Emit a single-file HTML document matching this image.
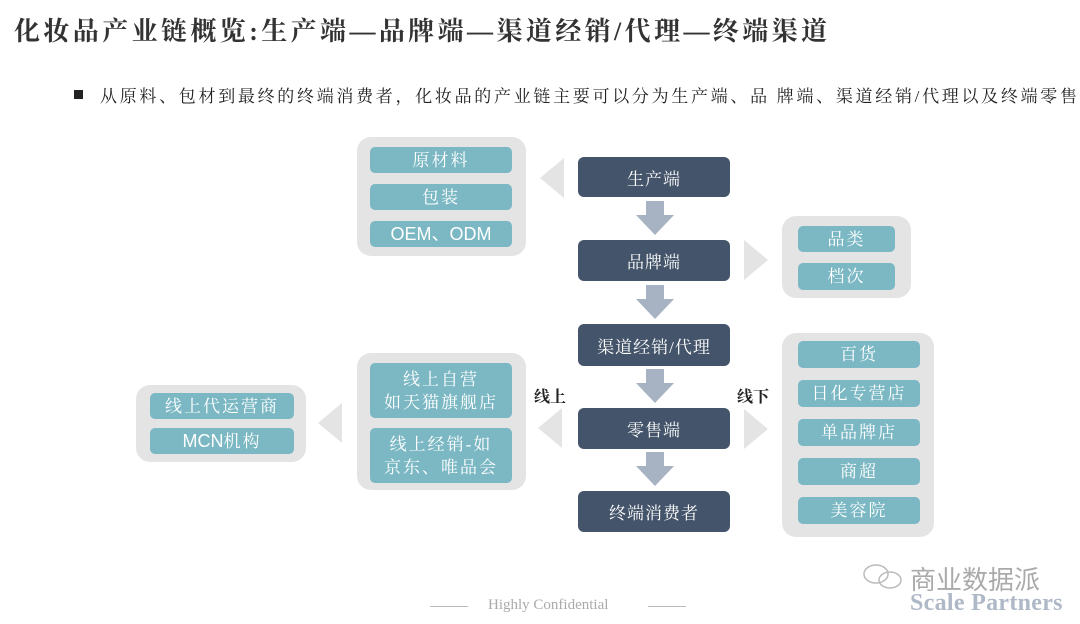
<!DOCTYPE html>
<html><head><meta charset="utf-8"><style>
body{margin:0;width:1080px;height:624px;background:#fff;position:relative;overflow:hidden;font-family:"Liberation Serif","Noto Serif CJK SC",serif}
.a{position:absolute}
.c{position:absolute;background:#e4e4e4;border-radius:14px}
.t{position:absolute;background:#7bb8c4;border-radius:5px;color:#fff;font-size:17px;display:flex;align-items:center;justify-content:center;text-align:center;line-height:23px;letter-spacing:2px}
.d{position:absolute;left:578px;width:152px;background:#44546a;border-radius:6px;color:#fff;font-size:17px;display:flex;align-items:center;justify-content:center;letter-spacing:1px}
.l{position:absolute;width:0;height:0;border-top:20px solid transparent;border-bottom:20px solid transparent}
.tl{border-right:24px solid #e4e4e4}
.tr{border-left:24px solid #e4e4e4}
.s{font-family:"Liberation Sans",sans-serif;letter-spacing:0}
</style></head><body>
<div class="a" style="left:14px;top:11px;font-size:26px;font-weight:bold;color:#333;font-family:'Liberation Serif','Noto Serif CJK SC',serif;letter-spacing:3.4px;white-space:nowrap">化妆品产业链概览:生产端—品牌端—渠道经销/代理—终端渠道</div>
<div class="a" style="left:74px;top:90px;width:9px;height:9px;background:#222"></div>
<div class="a" style="left:100px;top:82px;font-size:17px;color:#222;white-space:nowrap;letter-spacing:2.7px">从原料、包材到最终的终端消费者，化妆品的产业链主要可以分为生产端、品 牌端、渠道经销/代理以及终端零售</div>

<svg class="a" style="left:0;top:0" width="1080" height="624">
<g fill="#a7b2c2">
<path d="M646 201h18v14h10l-19 20-19-20h10z"/>
<path d="M646 285h18v14h10l-19 20-19-20h10z"/>
<path d="M646 369h18v14h10l-19 20-19-20h10z"/>
<path d="M646 452h18v14h10l-19 20-19-20h10z"/>
</g>
</svg>

<div class="d" style="top:157px;height:40px">生产端</div>
<div class="d" style="top:240px;height:41px">品牌端</div>
<div class="d" style="top:324px;height:42px">渠道经销/代理</div>
<div class="d" style="top:408px;height:41px">零售端</div>
<div class="d" style="top:491px;height:41px">终端消费者</div>

<div class="c" style="left:357px;top:137px;width:169px;height:119px"></div>
<div class="t" style="left:370px;top:147px;width:142px;height:26px">原材料</div>
<div class="t" style="left:370px;top:184px;width:142px;height:26px">包装</div>
<div class="t s" style="left:370px;top:221px;width:142px;height:26px;font-size:18px">OEM、ODM</div>
<div class="l tl" style="left:540px;top:158px"></div>

<div class="c" style="left:782px;top:216px;width:129px;height:82px"></div>
<div class="t" style="left:798px;top:226px;width:97px;height:26px">品类</div>
<div class="t" style="left:798px;top:263px;width:97px;height:27px">档次</div>
<div class="l tr" style="left:744px;top:240px"></div>

<div class="c" style="left:357px;top:353px;width:169px;height:137px"></div>
<div class="t" style="left:370px;top:363px;width:142px;height:55px">线上自营<br>如天猫旗舰店</div>
<div class="t" style="left:370px;top:428px;width:142px;height:55px">线上经销-如<br>京东、唯品会</div>
<div class="l tl" style="left:538px;top:408px"></div>
<div class="a" style="left:534px;top:384px;font-size:16px;font-weight:bold;color:#222">线上</div>

<div class="c" style="left:136px;top:385px;width:170px;height:77px"></div>
<div class="t" style="left:150px;top:393px;width:144px;height:26px">线上代运营商</div>
<div class="t" style="left:150px;top:428px;width:144px;height:26px"><span class="s" style="font-size:18px">MCN</span>机构</div>
<div class="l tl" style="left:318px;top:403px"></div>

<div class="c" style="left:782px;top:333px;width:152px;height:204px"></div>
<div class="t" style="left:798px;top:341px;width:122px;height:27px">百货</div>
<div class="t" style="left:798px;top:380px;width:122px;height:27px">日化专营店</div>
<div class="t" style="left:798px;top:419px;width:122px;height:27px">单品牌店</div>
<div class="t" style="left:798px;top:458px;width:122px;height:27px">商超</div>
<div class="t" style="left:798px;top:497px;width:122px;height:27px">美容院</div>
<div class="l tr" style="left:744px;top:409px"></div>
<div class="a" style="left:737px;top:384px;font-size:16px;font-weight:bold;color:#222">线下</div>

<div class="a" style="left:430px;top:606px;width:38px;height:1px;background:#bbb"></div>
<div class="a" style="left:648px;top:606px;width:38px;height:1px;background:#bbb"></div>
<div class="a" style="left:488px;top:597px;font-size:15px;color:#aaa">Highly Confidential</div>
<svg class="a" style="left:860px;top:562px" width="48" height="30"><g fill="none" stroke="#bbb" stroke-width="1.5"><ellipse cx="16" cy="12" rx="12" ry="9"/><ellipse cx="30" cy="18" rx="11" ry="8"/></g></svg>
<div class="a" style="left:910px;top:560px;font-size:26px;color:#aaa;font-family:'Liberation Sans','Noto Sans CJK SC',sans-serif">商业数据派</div>
<div class="a" style="left:910px;top:590px;font-size:24px;font-weight:bold;color:#aeb8c6;letter-spacing:0.3px">Scale Partners</div>
</body></html>
